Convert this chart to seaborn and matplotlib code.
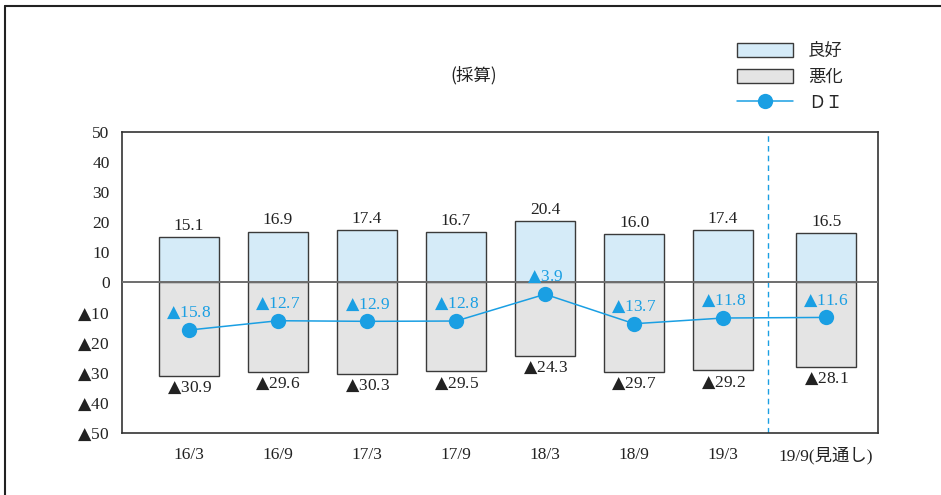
import numpy as np
import pandas as pd
import matplotlib
matplotlib.use("Agg")
import matplotlib.pyplot as plt
from matplotlib.lines import Line2D
from matplotlib.patches import Patch
import seaborn as sns

# ---- data ----
periods = ["16/3", "16/9", "17/3", "17/9", "18/3", "18/9", "19/3", "19/9(見通し)"]
good = [15.1, 16.9, 17.4, 16.7, 20.4, 16.0, 17.4, 16.5]
bad = [-30.9, -29.6, -30.3, -29.5, -24.3, -29.7, -29.2, -28.1]
di = [-15.8, -12.7, -12.9, -12.8, -3.9, -13.7, -11.8, -11.6]
yticks = [50, 40, 30, 20, 10, 0, -10, -20, -30, -40, -50]
title = "(採算)"
legend_labels = ["良好", "悪化", "ＤＩ"]

# ---- style ----
sns.set_theme(style="white")
SERIF = ["Liberation Serif", "DejaVu Serif", "Noto Sans CJK JP"]
CJK = ["Noto Sans CJK JP", "DejaVu Sans"]
plt.rcParams["font.family"] = SERIF
plt.rcParams["mathtext.fontset"] = "dejavusans"
C_GOOD = "#d5ebf8"
C_BAD = "#e4e4e4"
C_EDGE = "#3a3a3a"
C_DI = "#1a9fe3"
FS = 12.5
TRI = "$\u25b2$"


def neg(v):
    return f"{TRI}{v}"


x_pos = np.arange(len(periods), dtype=float)
x_pos[-1] += 0.157

df = pd.DataFrame({"pos": x_pos, "good": good, "bad": bad, "di": di})

fig = plt.figure(figsize=(9.41, 4.95), dpi=100)
ax = fig.add_axes([122 / 941, 1 - 433 / 495, (878 - 122) / 941, (433 - 132) / 495])

sns.barplot(data=df, x="pos", y="good", native_scale=True, width=0.675,
            color=C_GOOD, edgecolor=C_EDGE, linewidth=1.0, saturation=1,
            errorbar=None, ax=ax, zorder=2)
sns.barplot(data=df, x="pos", y="bad", native_scale=True, width=0.675,
            color=C_BAD, edgecolor=C_EDGE, linewidth=1.0, saturation=1,
            errorbar=None, ax=ax, zorder=2)
ax.axhline(0, color="#6e6e6e", lw=1.4, zorder=3)
sns.lineplot(data=df, x="pos", y="di", color=C_DI, lw=1.1, marker="o",
             markersize=11, markeredgewidth=0, ax=ax, zorder=5)
ax.axvline(6.5, color=C_DI, lw=1.0, ls=(0, (4, 3)), zorder=1)

for x, g, b, d in zip(x_pos, good, bad, di):
    ax.text(x, g + 1.1, f"{g:.1f}", ha="center", va="bottom", fontsize=FS, color="#222")
    ax.text(x, b - 1.4, neg(f"{abs(b):.1f}"), ha="center", va="top", fontsize=FS, color="#222")
    ax.text(x, d + 5.6, neg(f"{abs(d):.1f}"), ha="center", va="center", fontsize=FS,
            color=C_DI, zorder=6)

ax.set_xlim(-0.753, 7.74)
ax.set_ylim(-50, 50)
ax.set_yticks(yticks)
ax.set_yticklabels([str(v) if v >= 0 else neg(-v) for v in yticks], fontsize=FS, color="#222")
ax.set_xticks(x_pos)
ax.set_xticklabels(periods, fontsize=FS, color="#222")
ax.tick_params(axis="both", length=0)
ax.tick_params(axis="y", pad=9)
ax.tick_params(axis="x", pad=10)
ax.set_xlabel("")
ax.set_ylabel("")
for s in ax.spines.values():
    s.set_color("#333")
    s.set_linewidth(1.2)

fig.text(474 / 941, 1 - 75 / 495, title, ha="center", va="center", fontsize=FS,
         family=CJK, color="#222")

handles = [Patch(facecolor=C_GOOD, edgecolor=C_EDGE, lw=1.0),
           Patch(facecolor=C_BAD, edgecolor=C_EDGE, lw=1.0),
           Line2D([0], [0], color=C_DI, lw=1.1, marker="o", markersize=11, markeredgewidth=0)]
leg = fig.legend(handles, legend_labels, loc="upper left",
                 bbox_to_anchor=(737 / 941, 1 - 42 / 495), frameon=False,
                 borderpad=0, borderaxespad=0, handlelength=3.2, handleheight=0.85,
                 handletextpad=0.9, labelspacing=0.45,
                 prop={"family": CJK, "size": FS})

fig.add_artist(Line2D([5 / 941, 5 / 941], [0, 1 - 6 / 495], transform=fig.transFigure,
                      color="#222", lw=1.5))
fig.add_artist(Line2D([5 / 941, 1], [1 - 6 / 495, 1 - 6 / 495], transform=fig.transFigure,
                      color="#222", lw=1.5))

fig.savefig("out.png", dpi=100, facecolor="white")
